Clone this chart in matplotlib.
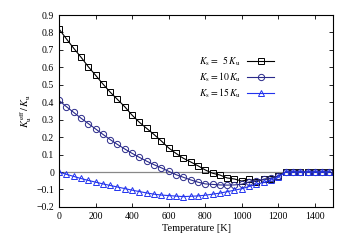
import numpy as np
import matplotlib
matplotlib.use('Agg')
from matplotlib import pyplot as plt

plt.rcParams['font.family'] = 'Liberation Serif'
plt.rcParams['mathtext.fontset'] = 'stix'

# temperature grid in K
T = np.arange(0, 1500, 40)

# K_u^eff / K_u for three surface anisotropies
ks5 = [0.82, 0.764, 0.71, 0.659, 0.604, 0.555, 0.505, 0.458, 0.416, 0.374,
       0.326, 0.285, 0.25, 0.215, 0.178, 0.138, 0.107, 0.079, 0.058, 0.036,
       0.012, -0.007, -0.017, -0.034, -0.04, -0.052, -0.042, -0.055, -0.042, -0.038,
       -0.022, 0.0, 0.0, 0.0, 0.0, 0.0, 0.0, 0.0]
ks10 = [0.41, 0.375, 0.342, 0.309, 0.278, 0.247, 0.216, 0.186, 0.158, 0.132,
        0.107, 0.084, 0.062, 0.042, 0.024, 0.004, -0.015, -0.03, -0.045, -0.058,
        -0.068, -0.071, -0.074, -0.075, -0.074, -0.07, -0.057, -0.05, -0.042, -0.035,
        -0.022, 0.0, 0.0, 0.0, 0.0, 0.0, 0.0, 0.0]
ks15 = [0.0, -0.013, -0.025, -0.037, -0.048, -0.058, -0.068, -0.077, -0.086, -0.095,
        -0.104, -0.112, -0.12, -0.127, -0.132, -0.135, -0.138, -0.141, -0.139, -0.137,
        -0.133, -0.127, -0.121, -0.113, -0.104, -0.096, -0.083, -0.07, -0.06, -0.046,
        -0.031, 0.0, 0.0, 0.0, 0.0, 0.0, 0.0, 0.0]

labels = [r'$K_\mathrm{s}=\ \ 5\,K_\mathrm{u}$',
          r'$K_\mathrm{s}=10\,K_\mathrm{u}$',
          r'$K_\mathrm{s}=15\,K_\mathrm{u}$']

yticks = np.round(np.arange(-0.2, 0.91, 0.1), 1)

fig = plt.figure(figsize=(3.47, 2.42), dpi=100)
ax = fig.add_axes([0.170, 0.145, 0.790, 0.793])

ax.axhline(0, color='#888888', lw=0.9, zorder=1)
ax.plot(T, ks5, color='black', lw=0.8, marker='s', ms=4.5, mfc='none',
        mew=0.7, label=labels[0])
ax.plot(T, ks10, color='#2a2a8a', lw=0.8, marker='o', ms=4.5, mfc='none',
        mew=0.7, label=labels[1])
ax.plot(T, ks15, color='#2233ee', lw=0.8, marker='^', ms=4.5, mfc='none',
        mew=0.7, label=labels[2])

ax.set_xlim(0, 1500)
ax.set_ylim(-0.2, 0.9)
ax.set_xticks(range(0, 1500, 200))
ax.set_yticks(yticks)
ax.set_yticklabels([('%g' % v).replace('-', '\u2212') if v != 0 else '0' for v in yticks])
ax.tick_params(direction='in', top=True, right=True, labelsize=7, length=3, width=0.6)
for s in ax.spines.values():
    s.set_linewidth(0.8)

ax.set_xlabel('Temperature [K]', fontsize=7.5, labelpad=2)
ax.set_ylabel(r'$K_\mathrm{u}^\mathrm{eff}\,/\,K_\mathrm{u}$', fontsize=7.5, labelpad=2)

ax.legend(loc='upper right', bbox_to_anchor=(0.81, 0.83), frameon=False,
          markerfirst=False, fontsize=7, handlelength=2.8, labelspacing=0.25,
          borderpad=0.2, handletextpad=0.6)

fig.savefig('out.png', dpi=100)
